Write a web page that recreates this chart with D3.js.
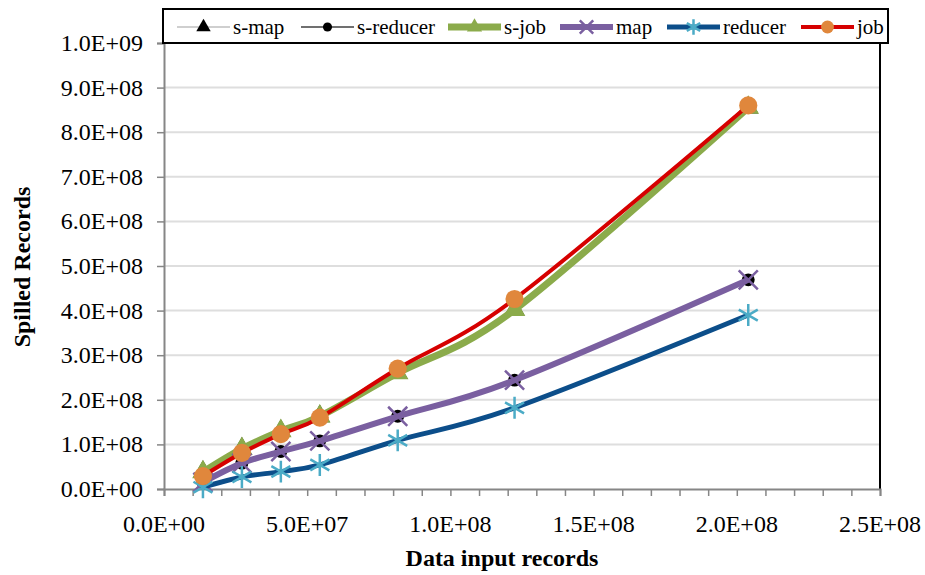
<!DOCTYPE html>
<html>
<head>
<meta charset="utf-8">
<script src="https://cdn.jsdelivr.net/npm/d3@7/dist/d3.min.js"></script>
<style>
  body { margin: 0; background: #fff; }
  text { font-family: "Liberation Serif", "Times New Roman", serif; fill: #000; }
</style>
</head>
<body>
<svg id="chart" width="925" height="575"></svg>
<script>
// data
var inputRecords = [1.36e7, 2.72e7, 4.08e7, 5.44e7, 8.16e7, 1.224e8, 2.04e8];
var sMap      = [3.8e7, 9.0e7, 1.30e8, 1.63e8, 2.60e8, 4.02e8, 8.55e8];
var sReducer  = [1.5e7, 5.8e7, 8.4e7, 1.08e8, 1.63e8, 2.44e8, 4.69e8];
var sJob      = [3.8e7, 9.0e7, 1.30e8, 1.63e8, 2.60e8, 4.02e8, 8.55e8];
var mapRec    = [1.5e7, 5.8e7, 8.4e7, 1.08e8, 1.63e8, 2.44e8, 4.69e8];
var reducer   = [4e6, 2.7e7, 3.9e7, 5.4e7, 1.09e8, 1.82e8, 3.9e8];
var job       = [2.9e7, 8.1e7, 1.23e8, 1.60e8, 2.70e8, 4.26e8, 8.60e8];
var xTicks = [0, 5e7, 1e8, 1.5e8, 2e8, 2.5e8];
var yTicks = [0, 1e8, 2e8, 3e8, 4e8, 5e8, 6e8, 7e8, 8e8, 9e8, 1e9];

var series = [
  {name: 's-map',     values: sMap,     line: '#bfbfbf', width: 1.5, marker: 'triangle', mcolor: '#000', msize: 180},
  {name: 's-reducer', values: sReducer, line: '#404040', width: 1.5, marker: 'circle',   mcolor: '#000', msize: 130},
  {name: 's-job',     values: sJob,     line: '#8bab4b', width: 7,   marker: 'triangle', mcolor: '#8bab4b', msize: 200},
  {name: 'map',       values: mapRec,   line: '#7a5fa0', width: 6,   marker: 'times',    mcolor: '#7a5fa0', msize: 240},
  {name: 'reducer',   values: reducer,  line: '#0c4e8a', width: 5,   marker: 'asterisk', mcolor: '#4babc6', msize: 340},
  {name: 'job',       values: job,      line: '#d60000', width: 4,   marker: 'circle',   mcolor: '#e0873c', msize: 260}
];

function sci(v){
  if (v === 0) return '0.0E+00';
  var e = Math.floor(Math.log10(v));
  var m = v / Math.pow(10, e);
  return m.toFixed(1) + 'E+' + (e < 10 ? '0' + e : e);
}

var svg = d3.select('#chart');
var pLeft = 164, pRight = 880, pTop = 43, pBottom = 489;

var x = d3.scaleLinear().domain([0, 2.5e8]).range([pLeft, pRight]);
var y = d3.scaleLinear().domain([0, 1e9]).range([pBottom, pTop]);

// grid
svg.append('g').selectAll('line').data(yTicks.slice(1)).enter().append('line')
  .attr('x1', pLeft).attr('x2', pRight)
  .attr('y1', function(d){ return y(d); }).attr('y2', function(d){ return y(d); })
  .attr('stroke', '#dedede').attr('stroke-width', 2);

// plot frame (top / right black)
svg.append('path')
  .attr('d', 'M' + pLeft + ',' + pTop + 'H' + pRight + 'V' + pBottom)
  .attr('fill', 'none').attr('stroke', '#000').attr('stroke-width', 2);

// axes
var xAxis = svg.append('g').attr('transform', 'translate(0,' + pBottom + ')')
  .call(d3.axisBottom(x).tickValues(d3.range(0, 2.5e8 + 1, 1e7)).tickSize(7).tickFormat(''));
var yAxis = svg.append('g').attr('transform', 'translate(' + pLeft + ',0)')
  .call(d3.axisLeft(y).tickValues(yTicks).tickSize(7).tickFormat(''));
[xAxis, yAxis].forEach(function(a){
  a.select('.domain').attr('stroke', '#868686').attr('stroke-width', 2);
  a.selectAll('.tick line').attr('stroke', '#868686').attr('stroke-width', 1.5);
});

svg.append('g').selectAll('text').data(xTicks).enter().append('text')
  .attr('x', function(d){ return x(d); }).attr('y', 532)
  .attr('text-anchor', 'middle').style('font-size', '24px')
  .text(sci);

svg.append('g').selectAll('text').data(yTicks).enter().append('text')
  .attr('x', 143).attr('y', function(d){ return y(d) + 8; })
  .attr('text-anchor', 'end').style('font-size', '24px')
  .text(sci);

svg.append('text').attr('x', 502).attr('y', 566).attr('text-anchor', 'middle')
  .style('font-size', '24px').style('font-weight', 'bold')
  .text('Data input records');

svg.append('text').attr('transform', 'translate(30,267) rotate(-90)').attr('text-anchor', 'middle')
  .style('font-size', '24px').style('font-weight', 'bold')
  .text('Spilled Records');

// markers
var symbols = {
  triangle: d3.symbolTriangle, circle: d3.symbolCircle,
  times: d3.symbolTimes, asterisk: d3.symbolAsterisk
};
function drawMarker(g, s, cx, cy, scale){
  var stroked = (s.marker === 'times' || s.marker === 'asterisk');
  g.append('path')
    .attr('d', d3.symbol().type(symbols[s.marker]).size(s.msize * (scale || 1))())
    .attr('transform', 'translate(' + cx + ',' + cy + ')')
    .attr('fill', stroked ? 'none' : s.mcolor)
    .attr('stroke', stroked ? s.mcolor : 'none')
    .attr('stroke-width', stroked ? 2.5 : 0);
}

var line = d3.line()
  .x(function(d){ return x(d[0]); })
  .y(function(d){ return y(d[1]); })
  .curve(d3.curveCatmullRom.alpha(0));

series.forEach(function(s){
  var pts = inputRecords.map(function(v, i){ return [v, s.values[i]]; });
  var g = svg.append('g');
  g.append('path').datum(pts).attr('d', line)
    .attr('fill', 'none').attr('stroke', s.line).attr('stroke-width', s.width)
    .attr('stroke-linejoin', 'round');
  pts.forEach(function(p){ drawMarker(g, s, x(p[0]), y(p[1])); });
});

// legend
var lg = svg.append('g');
lg.append('rect').attr('x', 163).attr('y', 9).attr('width', 725).attr('height', 34)
  .attr('fill', '#fff').attr('stroke', '#000').attr('stroke-width', 2);
var legendX = [177, 301, 448, 560, 667, 801];
series.forEach(function(s, i){
  var lx = legendX[i], ly = 27;
  lg.append('line').attr('x1', lx).attr('x2', lx + 53).attr('y1', ly).attr('y2', ly)
    .attr('stroke', s.line).attr('stroke-width', s.width);
  drawMarker(lg, s, lx + 26.5, ly, 0.5);
  lg.append('text').attr('x', lx + 56).attr('y', ly + 7)
    .style('font-size', '21px').text(s.name);
});
</script>
</body>
</html>
